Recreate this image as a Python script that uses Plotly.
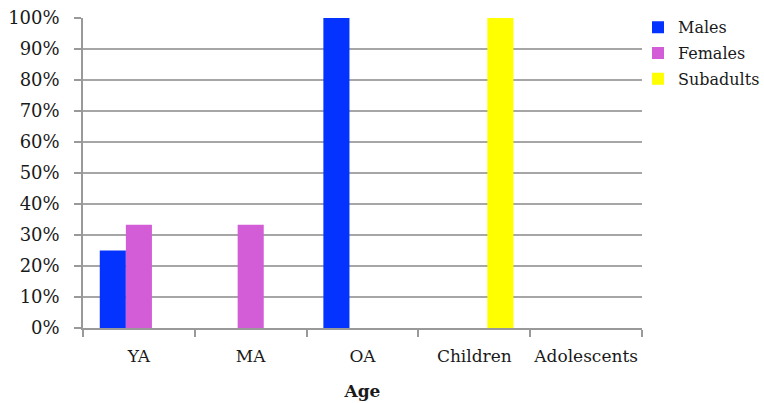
import plotly.graph_objects as go

categories = ["YA", "MA", "OA", "Children", "Adolescents"]
males = [25, 0, 100, 0, 0]
females = [33.3, 33.3, 0, 0, 0]
subadults = [0, 0, 0, 100, 0]
y_ticks = list(range(0, 101, 10))
y_tick_labels = [f"{v}%" for v in y_ticks]

FONT = "DejaVu Serif"

fig = go.Figure()
fig.add_trace(go.Bar(name="Males", x=categories, y=males, marker_color="#0433FF",
                     marker_line_width=0, legendgroup="m"))
fig.add_trace(go.Bar(name="Females", x=categories, y=females, marker_color="#D35DD6",
                     marker_line_width=0, legendgroup="f"))
fig.add_trace(go.Bar(name="Subadults", x=categories, y=subadults, marker_color="#FFFF00",
                     marker_line_width=0, legendgroup="s"))

fig.update_layout(
    width=764, height=403,
    margin=dict(l=83, r=122, t=18, b=75, autoexpand=False),
    plot_bgcolor="white", paper_bgcolor="white",
    barmode="group", bargap=0.30, bargroupgap=0,
    font=dict(family=FONT, size=17, color="#1a1a1a"),
    showlegend=True,
    legend=dict(x=1.0 - 4 / 559, y=1.025, xanchor="left", yanchor="top",
                font=dict(family=FONT, size=16), tracegroupgap=2,
                itemwidth=30, bgcolor="rgba(0,0,0,0)", borderwidth=0),
    xaxis=dict(
        type="category", tickson="boundaries", ticks="outside", ticklen=7,
        tickcolor="#999999", tickwidth=1.5, tickangle=0,
        showline=True, linecolor="#999999", linewidth=1.5,
        showgrid=False,
        title=dict(text="<b>Age</b>", font=dict(family=FONT, size=17), standoff=20),
        tickfont=dict(family=FONT, size=17),
        ticklabelstandoff=12,
    ),
    yaxis=dict(
        range=[0, 100], tickvals=y_ticks, ticktext=y_tick_labels,
        ticks="outside", ticklen=7, tickcolor="#999999", tickwidth=1.5,
        showline=True, linecolor="#999999", linewidth=1.5,
        showgrid=True, gridcolor="#a6a6a6", gridwidth=1.5,
        zeroline=False,
        tickfont=dict(family=FONT, size=18),
        ticklabelstandoff=11,
    ),
)

fig.write_html("out.html", config={"displayModeBar": False},
               post_script="document.body.style.margin='0';")
